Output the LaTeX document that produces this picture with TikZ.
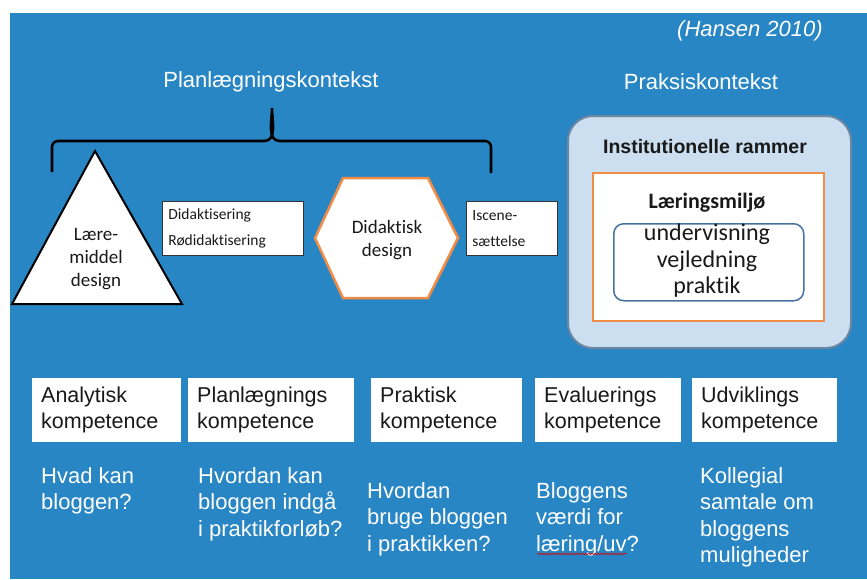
\documentclass[tikz,border=0pt]{standalone}
\usepackage{fontspec}
\setmainfont{Liberation Sans}
\newfontfamily\calibfont[Ligatures=NoCommon]{Carlito}
\usetikzlibrary{decorations.pathmorphing}
\definecolor{bgblue}{RGB}{41,134,197}
\definecolor{rammefill}{RGB}{203,223,240}
\definecolor{rammedraw}{RGB}{110,135,160}
\definecolor{orangeline}{RGB}{240,140,70}
\definecolor{miljoline}{RGB}{70,115,160}
\definecolor{boxtext}{RGB}{25,25,25}

\begin{document}
\begin{tikzpicture}[x=1pt,y=-1pt]
\par
\tikzstyle{overskrift}=[text=white,inner sep=0pt,font=\fontsize{22}{26}\selectfont]
\tikzstyle{kompbox}=[fill=white,anchor=north west,inner xsep=9pt,inner ysep=0pt,minimum height=64pt,align=left,text=boxtext,font=\fontsize{21.5}{26}\selectfont]
\tikzstyle{spoergsmaal}=[text=white,anchor=north west,align=left,inner sep=0pt,font=\fontsize{22}{26.5}\selectfont]
\tikzstyle{lillebox}=[fill=white,draw=black!80,line width=0.8pt,anchor=north west,inner xsep=6pt,inner ysep=0pt,minimum height=54pt,align=left,text=boxtext,font=\calibfont\fontsize{15.5}{26.5}\selectfont]
\tikzstyle{figurtekst}=[align=center,inner sep=0pt,text=boxtext,font=\calibfont\fontsize{19}{23}\selectfont]
\par
\fill[white] (0,0) rectangle (867,579);
\fill[bgblue] (10,13) rectangle (867,579);
\par
\node[overskrift,font=\itshape\fontsize{22}{26}\selectfont] (hansen) at (750,31) {(Hansen 2010)};
\node[overskrift] (planlaeg) at (271,82) {Planlægningskontekst};
\node[overskrift] (praksis) at (701,82) {Praksiskontekst};
\draw[line width=2.6pt] (52,172) -- (52,147) to[out=90,in=180] (58,141) -- (264,141)
      to[out=0,in=-90] (272,108) to[out=-90,in=180] (280,141) -- (485,141) to[out=0,in=90] (491,147) -- (491,173);
\par
\draw[fill=white,line width=2pt,line join=miter] (95,151) -- (182,304) -- (12,304) -- cycle;
\node[figurtekst] (laeremiddel) at (96,259) {Lære-\\middel\\design};
\node[lillebox,text width=129pt] (didaktisering) at (162,201) {Didaktisering\\Rødidaktisering};
\draw[fill=white,draw=orangeline,line width=2.5pt] (315,238) -- (343,178) -- (428,178) -- (458,238) -- (428,298) -- (343,298) -- cycle;
\node[figurtekst] (didaktisk) at (387,240) {Didaktisk\\design};
\node[lillebox,text width=79pt] (iscene) at (466,201) {Iscene-\\sættelse};
\par
\node[fill=rammefill,draw=rammedraw,line width=2pt,rounded corners=25pt,anchor=north west,
      minimum width=283pt,minimum height=232pt] (rammer) at (567,115) {};
\node[inner sep=0pt,text=boxtext,font=\bfseries\fontsize{19.5}{22}\selectfont] (instit) at (705,147) {Institutionelle rammer};
\node[fill=white,draw=orangeline,line width=2pt,anchor=north west,minimum width=231pt,minimum height=148pt] (miljoe) at (592,172) {};
\node[inner sep=0pt,text=boxtext,font=\calibfont\bfseries\fontsize{22}{24}\selectfont] (laering) at (707,203) {Læringsmiljø};
\node[draw=miljoline,line width=1.5pt,rounded corners=10pt,anchor=north west,minimum width=190pt,minimum height=77pt] (rum) at (613,223) {};
\node[align=center,inner sep=0pt,text=boxtext,font=\calibfont\fontsize{24}{26.5}\selectfont] (former) at (707,261) {undervisning\\vejledning\\praktik};
\par
\node[kompbox,text width=131pt] (analytisk) at (32,378) {Analytisk\\kompetence};
\node[kompbox,text width=148pt] (planlaegning) at (188,378) {Planlægnings\\kompetence};
\node[kompbox,text width=133pt] (praktisk) at (371,378) {Praktisk\\kompetence};
\node[kompbox,text width=128pt] (evaluering) at (535,378) {Evaluerings\\kompetence};
\node[kompbox,text width=127pt] (udvikling) at (692,378) {Udviklings\\kompetence};
\par
\node[spoergsmaal] (hvad) at (41,467) {Hvad kan\\bloggen?};
\node[spoergsmaal] (hvordankan) at (198,467) {Hvordan kan\\bloggen indgå\\i praktikforløb?};
\node[spoergsmaal] (hvordanbruge) at (367,482) {Hvordan\\bruge bloggen\\i praktikken?};
\node[spoergsmaal] (vaerdi) at (536,482) {Bloggens\\værdi for\\læring/uv?};
\node[spoergsmaal] (kollegial) at (700,467) {Kollegial\\samtale om\\bloggens\\muligheder};
\draw[red!85!black,line width=0.6pt,decorate,decoration={snake,amplitude=0.8pt,segment length=3pt}]
      ([xshift=1pt,yshift=2pt]vaerdi.south west) -- ([xshift=-12pt,yshift=2pt]vaerdi.south east);
\par
\end{tikzpicture}
\end{document}
